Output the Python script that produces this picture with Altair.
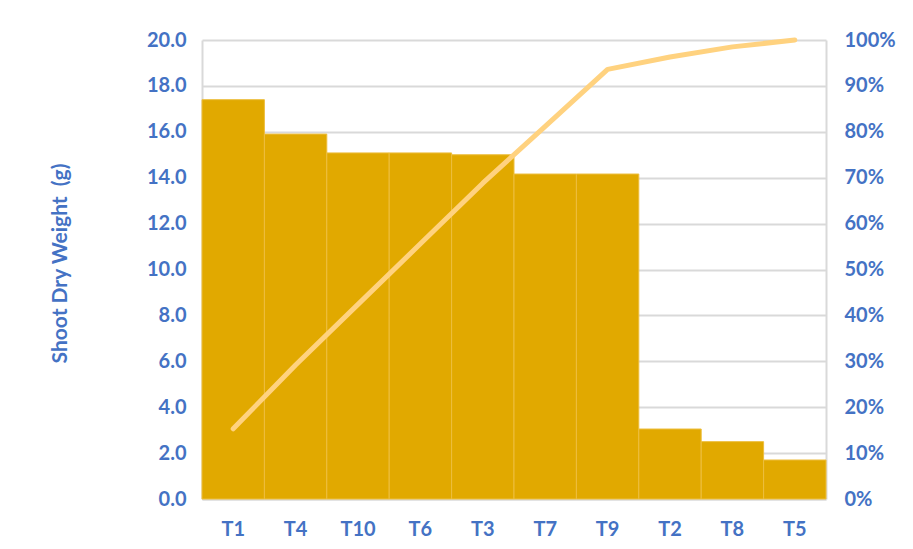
import altair as alt
import pandas as pd

categories = ["T1", "T4", "T10", "T6", "T3", "T7", "T9", "T2", "T8", "T5"]
weights = [17.4, 15.9, 15.08, 15.08, 15.0, 14.16, 14.16, 3.05, 2.5, 1.7]
cumulative = [0.153, 0.292, 0.424, 0.556, 0.688, 0.812, 0.936, 0.963, 0.985, 1.0]
left_ticks = [0, 2, 4, 6, 8, 10, 12, 14, 16, 18, 20]
right_ticks = [0, 0.1, 0.2, 0.3, 0.4, 0.5, 0.6, 0.7, 0.8, 0.9, 1.0]

df = pd.DataFrame({"cat": categories, "w": weights, "cum": cumulative})

BLUE = "#4472C4"
FONT = "Lato"
GRID = "#D9D9D9"
FS = 20

x = alt.X("cat:N", sort=categories, title=None,
          scale=alt.Scale(paddingInner=0, paddingOuter=0),
          axis=alt.Axis(labelAngle=0, ticks=False, domainColor=GRID, domainWidth=2,
                        labelColor=BLUE, labelFont=FONT, labelFontWeight="bold",
                        labelFontSize=FS, labelPadding=20))

bars = alt.Chart(df).mark_bar(color="#E1A900", stroke="#EDBE3E", strokeWidth=1).encode(
    x=x,
    y=alt.Y("w:Q", title="Shoot Dry Weight\u00a0\u00a0(g)",
            scale=alt.Scale(domain=[0, 20], nice=False),
            axis=alt.Axis(values=left_ticks, format=".1f", ticks=False,
                          domainColor=GRID, domainWidth=2,
                          gridColor=GRID, gridWidth=2,
                          labelColor=BLUE, labelFont=FONT, labelFontWeight="bold",
                          labelFontSize=FS, labelPadding=16,
                          titleColor=BLUE, titleFont=FONT, titleFontWeight="bold",
                          titleFontSize=21, titleX=-142, titleY=223,
                          titleAngle=-90, titleAlign="center", titleBaseline="middle")),
)

line = alt.Chart(df).mark_line(color="#FFD27F", strokeWidth=5, strokeCap="round",
                               strokeJoin="round").encode(
    x=alt.X("cat:N", sort=categories),
    y=alt.Y("cum:Q", title=None,
            scale=alt.Scale(domain=[0, 1], nice=False),
            axis=alt.Axis(orient="right", values=right_ticks, format=".0%", ticks=False,
                          grid=False, domainColor=GRID, domainWidth=2,
                          labelColor=BLUE, labelFont=FONT, labelFontWeight="bold",
                          labelFontSize=FS, labelPadding=18)),
)

chart = alt.layer(bars, line).resolve_scale(y="independent").properties(
    width=624, height=459,
    autosize=alt.AutoSizeParams(type="none"),
    padding={"left": 202, "top": 40, "right": 87, "bottom": 50},
    background="white",
).configure_view(stroke=None)

chart.save("out.html", embed_options={"renderer": "svg", "actions": False})
